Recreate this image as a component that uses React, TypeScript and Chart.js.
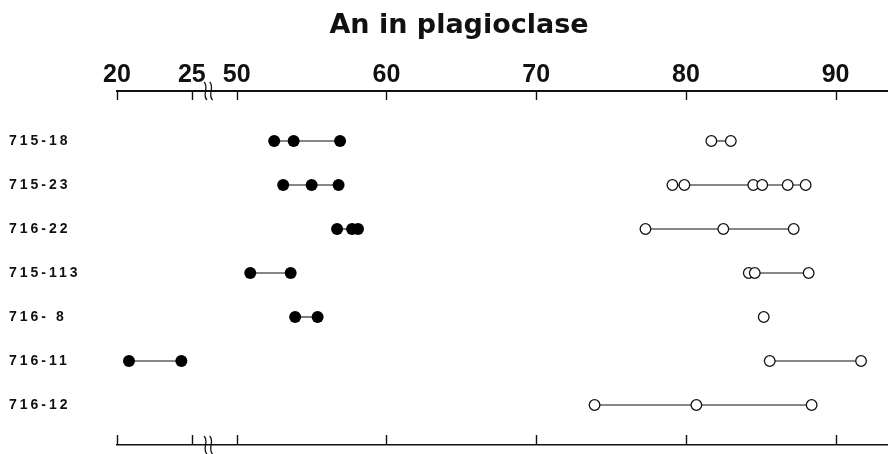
import React, { useEffect, useRef } from "react";
import { Chart, registerables } from "chart.js";

Chart.register(...registerables);

// ---------- data ----------
const TITLE = "An in plagioclase";
const ROWS = ["715-18", "715-23", "716-22", "715-113", "716- 8", "716-11", "716-12"];
const X_TICKS = [20, 25, 50, 60, 70, 80, 90];

// filled circles (left group)
const FILLED_715_18 = [52.5, 53.8, 56.9];
const FILLED_715_23 = [53.1, 55.0, 56.8];
const FILLED_716_22 = [56.7, 57.7, 58.1];
const FILLED_715_113 = [50.9, 53.6];
const FILLED_716_8 = [53.9, 55.4];
const FILLED_716_11 = [20.8, 24.3];
const FILLED_716_12: number[] = [];

// open circles (right group)
const OPEN_715_18 = [81.7, 83.0];
const OPEN_715_23 = [79.1, 79.9, 84.5, 85.1, 86.8, 88.0];
const OPEN_716_22 = [77.3, 82.5, 87.2];
const OPEN_715_113 = [84.2, 84.6, 88.2];
const OPEN_716_8 = [85.2];
const OPEN_716_11 = [85.6, 91.7];
const OPEN_716_12 = [73.9, 80.7, 88.4];

const FILLED = [FILLED_715_18, FILLED_715_23, FILLED_716_22, FILLED_715_113, FILLED_716_8, FILLED_716_11, FILLED_716_12];
const OPEN = [OPEN_715_18, OPEN_715_23, OPEN_716_22, OPEN_715_113, OPEN_716_8, OPEN_716_11, OPEN_716_12];

// axis break: values 20..25 are shown just before 50
const BREAK_LOW = 25;
const BREAK_HIGH = 50;
const BREAK_GAP = 3;
const SHIFT = BREAK_HIGH - BREAK_LOW - BREAK_GAP;
const toDisplay = (v: number) => (v <= BREAK_LOW ? v + SHIFT : v);
const fromDisplay = (d: number) => (d <= BREAK_LOW + SHIFT + 0.01 ? d - SHIFT : d);
const X_MIN = toDisplay(20);
const X_MAX = 93.5;
const BREAK_MARK = BREAK_LOW + SHIFT + 1.1;

const INK = "#111";

const axisDecor = {
  id: "axisDecor",
  afterDraw(chart: any) {
    const { ctx, chartArea } = chart;
    const xs = chart.scales.x;
    ctx.save();
    ctx.strokeStyle = INK;
    ctx.lineWidth = 1.4;
    // tick marks (inward)
    for (const v of X_TICKS) {
      const px = Math.round(xs.getPixelForValue(toDisplay(v))) + 0.5;
      ctx.beginPath();
      ctx.moveTo(px, chartArea.top);
      ctx.lineTo(px, chartArea.top + 9);
      ctx.moveTo(px, chartArea.bottom);
      ctx.lineTo(px, chartArea.bottom - 10);
      ctx.stroke();
    }
    // break marks
    const bx = xs.getPixelForValue(BREAK_MARK);
    ctx.lineWidth = 1.3;
    for (const yc of [chartArea.top, chartArea.bottom]) {
      for (const off of [-2.8, 2.8]) {
        const cx = bx + off;
        ctx.beginPath();
        ctx.moveTo(cx - 1.5, yc - 9);
        ctx.bezierCurveTo(cx + 4, yc - 4, cx - 4, yc + 4, cx + 1.5, yc + 9);
        ctx.stroke();
      }
    }
    // title
    ctx.fillStyle = INK;
    ctx.font = 'bold 27px "DejaVu Sans"';
    ctx.textAlign = "center";
    ctx.textBaseline = "alphabetic";
    ctx.fillText(TITLE, 459, 33);
    ctx.restore();
  },
};

const labelSpacing = {
  id: "labelSpacing",
  afterLayout(chart: any) {
    const ys = chart.scales.y;
    if (ys && !ys.__spaced) {
      const orig = ys.drawLabels.bind(ys);
      ys.drawLabels = (area: any) => {
        const c = ys.ctx;
        const prev = c.letterSpacing;
        c.letterSpacing = "3px";
        orig(area);
        c.letterSpacing = prev;
      };
      ys.__spaced = true;
    }
  },
};

export default function App() {
  const ref = useRef<HTMLCanvasElement>(null);
  useEffect(() => {
    document.body.style.margin = "0";
    const datasets: any[] = [];
    ROWS.forEach((_, i) => {
      if (FILLED[i].length) {
        datasets.push({
          data: FILLED[i].map((v) => ({ x: toDisplay(v), y: i })),
          borderColor: INK,
          borderWidth: 1.1,
          pointRadius: 6,
          pointBackgroundColor: "#000",
          pointBorderColor: "#000",
          pointBorderWidth: 0,
          showLine: true,
          fill: false,
        });
      }
      if (OPEN[i].length) {
        datasets.push({
          data: OPEN[i].map((v) => ({ x: toDisplay(v), y: i })),
          borderColor: INK,
          borderWidth: 1.1,
          pointRadius: 5.3,
          pointBackgroundColor: "#fff",
          pointBorderColor: INK,
          pointBorderWidth: 1.3,
          showLine: true,
          fill: false,
        });
      }
    });

    const noPad = (s: any) => {
      s.paddingLeft = 0;
      s.paddingRight = 0;
    };

    const chart = new Chart(ref.current!, {
      type: "line",
      data: { datasets },
      options: {
        responsive: false,
        animation: false,
        devicePixelRatio: 1,
        layout: { autoPadding: false, padding: { left: 9, right: 0, top: 0, bottom: 0 } },
        plugins: { legend: { display: false }, tooltip: { enabled: false }, title: { display: false } },
        scales: {
          x: {
            type: "linear",
            position: "top",
            min: X_MIN,
            max: X_MAX,
            afterBuildTicks: (s: any) => {
              s.ticks = X_TICKS.map((v) => ({ value: toDisplay(v) }));
            },
            afterFit: (s: any) => {
              s.height = 91;
              noPad(s);
            },
            ticks: {
              autoSkip: false,
              maxRotation: 0,
              padding: 1,
              color: INK,
              font: { family: "Liberation Sans", weight: "bold", size: 25 },
              callback: (v: any) => String(Math.round(fromDisplay(Number(v)))),
            },
            grid: { display: false, drawTicks: false },
            border: { display: true, color: INK, width: 2 },
          },
          x2: {
            type: "linear",
            position: "bottom",
            min: X_MIN,
            max: X_MAX,
            afterFit: (s: any) => {
              s.height = 9;
              noPad(s);
            },
            ticks: { display: false },
            grid: { display: false, drawTicks: false },
            border: { display: true, color: INK, width: 1.5 },
          },
          y: {
            type: "linear",
            position: "left",
            reverse: true,
            min: -1.136,
            max: 6.909,
            afterBuildTicks: (s: any) => {
              s.ticks = ROWS.map((_, i) => ({ value: i }));
            },
            afterFit: (s: any) => {
              s.width = 108;
              s.paddingTop = 0;
              s.paddingBottom = 0;
            },
            ticks: {
              autoSkip: false,
              crossAlign: "far",
              color: INK,
              font: { family: "Liberation Sans", weight: "bold", size: 14 },
              callback: (v: any) => ROWS[Number(v)] ?? "",
            },
            grid: { display: false, drawTicks: false },
            border: { display: false },
          },
        },
      } as any,
      plugins: [axisDecor, labelSpacing],
    });
    return () => chart.destroy();
  }, []);
  return (
    <div style={{ width: 888, height: 454, background: "#fff" }}>
      <canvas ref={ref} width={888} height={454} style={{ display: "block" }} />
    </div>
  );
}
